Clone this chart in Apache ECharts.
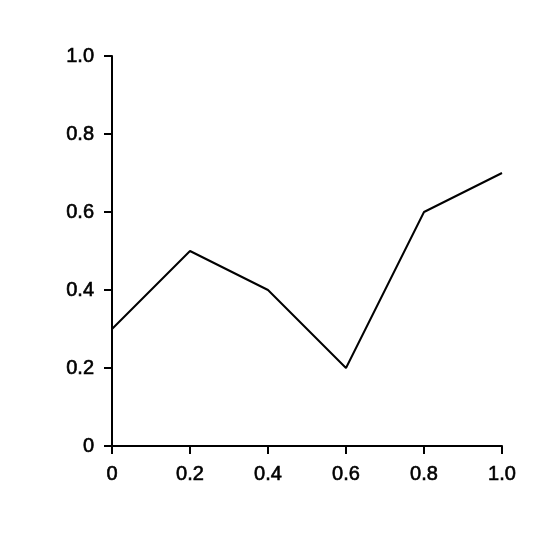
<!DOCTYPE html>
<html>
<head>
<meta charset="utf-8">
<script src="https://cdn.jsdelivr.net/npm/echarts@6/dist/echarts.min.js"></script>
<style>html,body{margin:0;padding:0;background:#fff;}#c{width:558px;height:558px;}</style>
</head>
<body>
<div id="c"></div>
<script>
const xValues = [0, 0.2, 0.4, 0.6, 0.8, 1.0];
const yValues = [0.3, 0.5, 0.4, 0.2, 0.6, 0.7];
const tickLabels = {0: '0', 0.2: '0.2', 0.4: '0.4', 0.6: '0.6', 0.8: '0.8', 1: '1.0'};

function fmt(v) {
  const k = Math.round(v * 10) / 10;
  return tickLabels[k] !== undefined ? tickLabels[k] : String(k);
}

const chart = echarts.init(document.getElementById('c'), null, {renderer: 'canvas'});
const axisCommon = {
  type: 'value', min: 0, max: 1, interval: 0.2,
  axisLine: {show: true, lineStyle: {color: '#000', width: 2}},
  axisTick: {show: true, inside: false, length: 8, lineStyle: {color: '#000', width: 2}},
  splitLine: {show: false},
  axisLabel: {color: '#000', fontFamily: 'Liberation Sans', fontWeight: 'normal', fontSize: 20,
              textBorderColor: '#000', textBorderWidth: 0.6, formatter: fmt}
};
chart.setOption({
  animation: false,
  backgroundColor: '#fff',
  grid: {left: 112, top: 56, right: 56, bottom: 112, containLabel: false},
  xAxis: Object.assign({}, axisCommon, {axisLabel: Object.assign({}, axisCommon.axisLabel, {margin: 18})}),
  yAxis: Object.assign({}, axisCommon, {axisLabel: Object.assign({}, axisCommon.axisLabel, {margin: 18})}),
  series: [{
    type: 'line',
    data: xValues.map((x, i) => [x, yValues[i]]),
    symbol: 'none',
    lineStyle: {color: '#000', width: 2},
    clip: false
  }]
});
</script>
</body>
</html>
